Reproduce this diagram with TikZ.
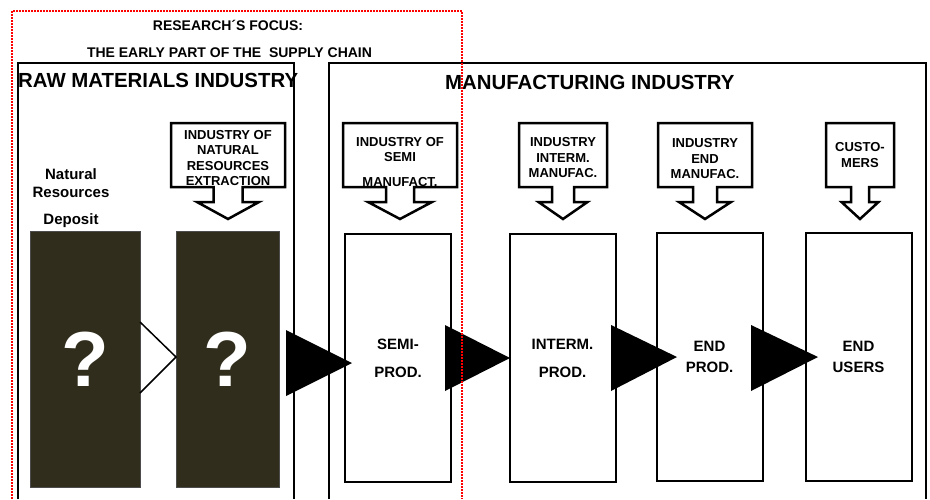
\documentclass[tikz,border=0pt]{standalone}
\usepackage{fontspec}
\setmainfont{Liberation Sans}
\usepackage{tikz}
\tikzset{>=stealth}
\definecolor{ore}{RGB}{48,45,28}
% down arrow callout: centre x, left, right, half stem, half head
\newcommand{\dncall}[5]{%
  \draw[callline] (#2,123) -- (#3,123) -- (#3,187) -- ({#1+#4},187) -- ({#1+#4},202)
    -- ({#1+#5},202) -- (#1,219) -- ({#1-#5},202) -- ({#1-#4},202) -- ({#1-#4},187)
    -- (#2,187) -- cycle;}

\begin{document}
\begin{tikzpicture}[x=1pt,y=-1pt,
    frame/.style={line width=2pt},
    callline/.style={line width=2.5pt,fill=white,line join=miter},
    calltext/.style={align=center,font=\fontsize{13}{15.5}\selectfont\bfseries},
    prodbox/.style={draw,line width=2pt,fill=white,minimum width=106pt,minimum height=248pt,
      align=center,font=\fontsize{15}{28}\selectfont\bfseries},
    orebox/.style={fill=ore,draw=gray!60!black,line width=0.6pt,minimum height=256pt,
      text=white,font=\fontsize{78}{78}\selectfont\bfseries}]
    \useasboundingbox (0,0) rectangle (930,499);
      % industries
      \draw[frame] (18,499) -- (18,63) -- (294,63) -- (294,499);
      \draw[frame] (329,499) -- (329,63) -- (926,63) -- (926,499);
      \node[anchor=base west,inner sep=0,font=\fontsize{20.4}{24}\selectfont\bfseries] (rawtitle) at (18,87) {RAW MATERIALS INDUSTRY};
      \node[anchor=base west,inner sep=0,font=\fontsize{20.4}{24}\selectfont\bfseries] (mantitle) at (445,89) {MANUFACTURING INDUSTRY};
      \node[anchor=base,inner sep=0,font=\fontsize{14}{16}\selectfont\bfseries] (focus) at (228,30) {RESEARCH´S FOCUS:};
      \node[anchor=base,inner sep=0,font=\fontsize{14}{16}\selectfont\bfseries] (early) at (229.5,57) {THE EARLY PART OF THE\ \ SUPPLY CHAIN};
      \node[align=center,font=\fontsize{15}{18}\selectfont\bfseries] (deposit) at (71,198.5) {Natural\\Resources\\[9pt]Deposit};
      % callouts
      \dncall{228}{171}{285}{14.5}{31}
      \node[calltext] (extract) at (228,158) {INDUSTRY OF\\NATURAL\\RESOURCES\\EXTRACTION};
      \dncall{400}{343}{457}{14}{32}
      \node[calltext] (semiind) at (400,162) {INDUSTRY OF\\SEMI\\[9pt]MANUFACT.};
      \dncall{563}{519}{607}{11}{24.5}
      \node[calltext] (intermind) at (563,158) {INDUSTRY\\INTERM.\\MANUFAC.};
      \dncall{705}{658}{752}{12}{26}
      \node[calltext] (endind) at (705,159) {INDUSTRY\\END\\MANUFAC.};
      \dncall{860}{826}{894}{9}{18.5}
      \node[calltext] (customers) at (860,155) {CUSTO-\\MERS};
      % stages
      \node[orebox,minimum width=110pt] (oreA) at (85,359) {?};
      \node[orebox,minimum width=103pt] (oreB) at (227.5,359) {?};
      \draw[line width=1.5pt] (140,322) -- (176,357) -- (140,393);
      \node[prodbox] (semi) at (398,358) {SEMI-\\PROD.};
      \node[prodbox] (interm) at (562.5,358) {INTERM.\\PROD.};
      \node[prodbox,font=\fontsize{15}{21}\selectfont\bfseries] (endprod) at (709.5,357) {END\\PROD.};
      \node[prodbox,font=\fontsize{15}{21}\selectfont\bfseries] (users) at (858.5,357) {END\\USERS};
      \fill (286,330) -- (352,363) -- (286,396) -- cycle;
      \fill (445,325) -- (510,358) -- (445,391) -- cycle;
      \fill (611,325) -- (677,357) -- (611,391) -- cycle;
      \fill (751,325) -- (818,357) -- (751,391) -- cycle;
      % focus of the research
      \draw[red,line width=2.2pt,dash pattern=on 2pt off 1pt] (12,499) -- (12,11) -- (462,11) -- (462,499);
\end{tikzpicture}
\end{document}
